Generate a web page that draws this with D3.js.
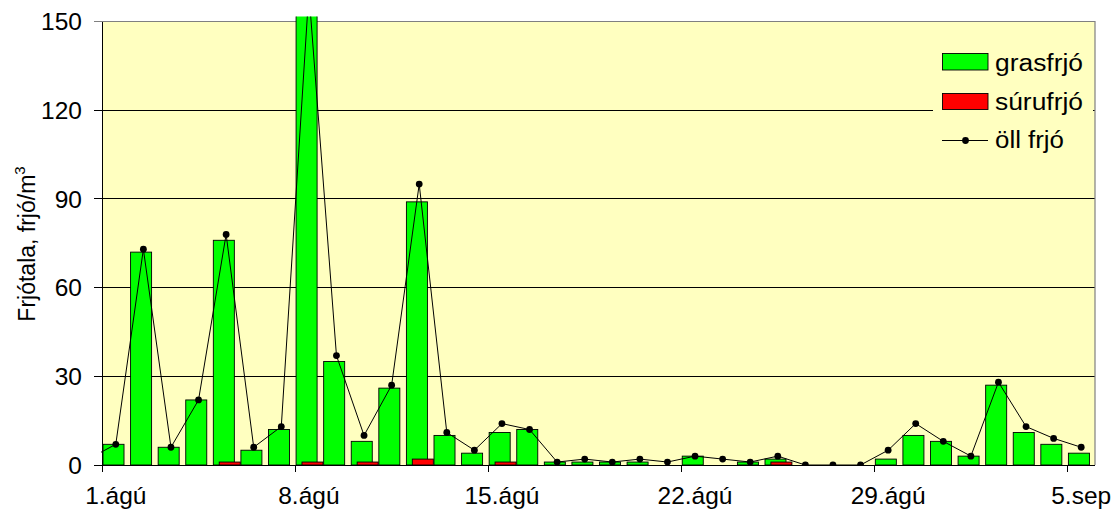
<!DOCTYPE html>
<html>
<head>
<meta charset="utf-8">
<script src="https://cdn.jsdelivr.net/npm/d3@7"></script>
<style>
  html, body { margin: 0; padding: 0; background: #fff; }
  svg { display: block; font-family: "Liberation Sans", Arial, sans-serif; }
</style>
</head>
<body>
<svg id="chart" width="1118" height="511"></svg>
<script>
// ---- data ----
const categories = [
  "1.ágú","2.ágú","3.ágú","4.ágú","5.ágú","6.ágú","7.ágú","8.ágú","9.ágú","10.ágú",
  "11.ágú","12.ágú","13.ágú","14.ágú","15.ágú","16.ágú","17.ágú","18.ágú","19.ágú","20.ágú",
  "21.ágú","22.ágú","23.ágú","24.ágú","25.ágú","26.ágú","27.ágú","28.ágú","29.ágú","30.ágú",
  "31.ágú","1.sep","2.sep","3.sep","4.sep","5.sep"
];
const tickLabels = ["1.ágú","8.ágú","15.ágú","22.ágú","29.ágú","5.sep"];
const grasfrjo = [7,72,6,22,76,5,12,158,35,8,26,89,10,4,11,12,1,1,1,1,0,3,0,1,2,0,0,0,2,10,8,3,27,11,7,4];
const surufrjo = [0,0,0,0,1,0,0,1,0,1,0,2,0,0,1,0,0,0,0,0,0,0,0,0,1,0,0,0,0,0,0,0,0,0,0,0];
const ollFrjo  = [7,73,6,22,78,6,13,160,37,10,27,95,11,5,14,12,1,2,1,2,1,3,2,1,3,0,0,0,5,14,8,3,28,13,9,6];
const ollFrjoPrev = 2; // 31. júlí (only the entering segment is visible)
const yTicks = [0,30,60,90,120,150];
const seriesNames = ["grasfrjó","súrufrjó","öll frjó"];

// ---- layout ----
const L = 102, R = 1095, T = 21.5, B = 465;
const svg = d3.select("#chart");

const x = d3.scaleBand().domain(categories).range([L, R]).paddingInner(0).paddingOuter(0);
const bw = x.bandwidth();
const y = d3.scaleLinear().domain([0,150]).range([B, T]);

// clip (bars may poke slightly above the plot top)
svg.append("defs").append("clipPath").attr("id","clip")
  .append("rect").attr("x", L - 1).attr("y", T - 5).attr("width", R - L + 1).attr("height", B - T + 5);

// plot background
svg.append("rect").attr("x", L).attr("y", T).attr("width", R - L).attr("height", B - T)
  .attr("fill", "#FFFFC0");

// gridlines
svg.append("g").selectAll("line").data(yTicks.filter(v => v > 0 && v < 150)).join("line")
  .attr("x1", L).attr("x2", R).attr("y1", d => y(d)).attr("y2", d => y(d))
  .attr("stroke", "#000").attr("stroke-width", 1).attr("shape-rendering", "crispEdges");

// top/right border
svg.append("path").attr("d", `M${L},${T}H${R}V${B}`).attr("fill","none")
  .attr("stroke","#808080").attr("stroke-width",1.2);

const plot = svg.append("g").attr("clip-path","url(#clip)");

// green bars
plot.append("g").selectAll("rect").data(categories.map((c,i)=>({c, v: grasfrjo[i]})).filter(d => d.v > 0)).join("rect")
  .attr("x", d => x(d.c) + bw * 0.036)
  .attr("width", bw * 0.762)
  .attr("y", d => y(d.v))
  .attr("height", d => B - y(d.v))
  .attr("fill", "#00FF00").attr("stroke", "#000").attr("stroke-width", 0.9);

// red bars (drawn above green)
plot.append("g").selectAll("rect").data(categories.map((c,i)=>({c, v: surufrjo[i]})).filter(d => d.v > 0)).join("rect")
  .attr("x", d => x(d.c) + bw * 0.25)
  .attr("width", bw * 0.762)
  .attr("y", d => y(d.v))
  .attr("height", d => B - y(d.v))
  .attr("fill", "#FF0000").attr("stroke", "#000").attr("stroke-width", 0.9);

// total line (with the previous day entering from the left)
const linePts = [{px: x(categories[0]) - bw / 2, v: ollFrjoPrev}]
  .concat(categories.map((c,i)=>({px: x(c) + bw / 2, v: ollFrjo[i]})));
plot.append("path").datum(linePts)
  .attr("d", d3.line().x(d => d.px).y(d => y(d.v)))
  .attr("fill","none").attr("stroke","#000").attr("stroke-width",1);
plot.append("g").selectAll("circle").data(categories.map((c,i)=>({c, v: ollFrjo[i]}))).join("circle")
  .attr("cx", d => x(d.c) + bw / 2).attr("cy", d => y(d.v)).attr("r", 3.4).attr("fill","#000");

// y axis
const yAxis = svg.append("g");
yAxis.append("line").attr("x1", L).attr("x2", L).attr("y1", T).attr("y2", B)
  .attr("stroke","#000").attr("shape-rendering","crispEdges");
yAxis.selectAll("line.tk").data(yTicks).join("line").attr("class","tk")
  .attr("x1", L - 8).attr("x2", L).attr("y1", d => y(d)).attr("y2", d => y(d))
  .attr("stroke", d => d === 150 ? "#808080" : "#000").attr("shape-rendering","crispEdges");
yAxis.selectAll("text").data(yTicks).join("text")
  .attr("x", 82).attr("y", d => y(d)).attr("dy", "0.36em")
  .attr("text-anchor","end").attr("font-size", 24.5).attr("fill","#000")
  .text(d => d);

// x axis
const xAxis = svg.append("g");
xAxis.append("line").attr("x1", L).attr("x2", R).attr("y1", B).attr("y2", B)
  .attr("stroke","#000").attr("shape-rendering","crispEdges");
xAxis.selectAll("line.tk").data(tickLabels).join("line").attr("class","tk")
  .attr("x1", d => Math.round(x(d)) + 0.5).attr("x2", d => Math.round(x(d)) + 0.5)
  .attr("y1", B).attr("y2", B + 7).attr("stroke","#000");
xAxis.selectAll("text").data(tickLabels).join("text")
  .attr("x", d => x(d) + bw / 2).attr("y", 504)
  .attr("text-anchor","middle").attr("font-size", 24.5).attr("fill","#000")
  .text(d => d);

// y label
const yl = svg.append("text").attr("transform","translate(35,244) rotate(-90)")
  .attr("text-anchor","middle").attr("font-size", 23).attr("fill","#000");
yl.append("tspan").text("Frjótala, frjó/m");
yl.append("tspan").attr("dy", -10).attr("font-size", 15).text("3");

// legend
const lg = svg.append("g");
lg.append("rect").attr("x", 933).attr("y", 38).attr("width", 160).attr("height", 122).attr("fill","#FFFFC0");
lg.append("rect").attr("x", 942.5).attr("y", 53.5).attr("width", 45.5).attr("height", 16.5)
  .attr("fill","#00FF00").attr("stroke","#000").attr("stroke-width",0.9);
lg.append("rect").attr("x", 942.5).attr("y", 93.5).attr("width", 45.5).attr("height", 16)
  .attr("fill","#FF0000").attr("stroke","#000").attr("stroke-width",0.9);
lg.append("line").attr("x1", 942).attr("x2", 988).attr("y1", 140.5).attr("y2", 140.5)
  .attr("stroke","#000").attr("stroke-width",1);
lg.append("circle").attr("cx", 965.5).attr("cy", 140.5).attr("r", 3.4).attr("fill","#000");
const legY = [70.5, 110, 148];
const legW = [88, 88, 69];
lg.selectAll("text").data(seriesNames).join("text")
  .attr("x", 995).attr("y", (d,i) => legY[i])
  .attr("font-size", 23.5).attr("fill","#000")
  .attr("textLength", (d,i) => legW[i]).attr("lengthAdjust","spacingAndGlyphs")
  .text(d => d);
</script>
</body>
</html>
